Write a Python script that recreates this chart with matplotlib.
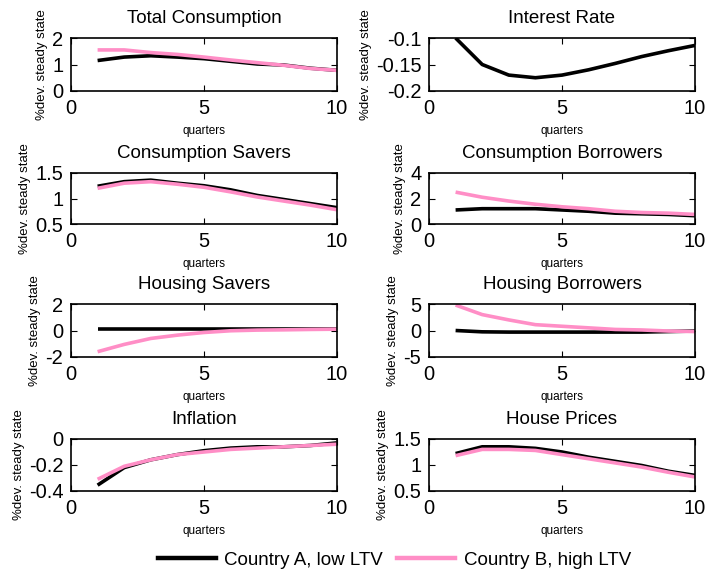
import matplotlib
matplotlib.use("Agg")
import matplotlib.pyplot as plt
from matplotlib.lines import Line2D

plt.rcParams["font.family"] = ["Liberation Sans", "DejaVu Sans"]
plt.rcParams["axes.unicode_minus"] = False

quarters = list(range(1, 11))

titles = ["Total Consumption", "Interest Rate",
          "Consumption Savers", "Consumption Borrowers",
          "Housing Savers", "Housing Borrowers",
          "Inflation", "House Prices"]

# Country A (low LTV) impulse responses
total_cons_a = [1.15, 1.28, 1.33, 1.28, 1.22, 1.12, 1.02, 0.98, 0.86, 0.78]
interest_a = [-0.10, -0.15, -0.17, -0.175, -0.17, -0.16, -0.148, -0.135, -0.124, -0.114]
cons_savers_a = [1.24, 1.33, 1.36, 1.30, 1.25, 1.17, 1.06, 0.98, 0.90, 0.82]
cons_borrowers_a = [1.1, 1.2, 1.2, 1.2, 1.1, 1.0, 0.85, 0.8, 0.75, 0.65]
housing_savers_a = [0.1, 0.1, 0.1, 0.1, 0.1, 0.1, 0.1, 0.1, 0.1, 0.1]
housing_borrowers_a = [0.0, -0.25, -0.3, -0.3, -0.3, -0.3, -0.3, -0.3, -0.2, -0.1]
inflation_a = [-0.355, -0.22, -0.16, -0.12, -0.09, -0.07, -0.06, -0.06, -0.05, -0.03]
house_prices_a = [1.22, 1.35, 1.35, 1.32, 1.25, 1.15, 1.07, 0.99, 0.88, 0.80]

# Country B (high LTV) impulse responses
total_cons_b = [1.55, 1.55, 1.45, 1.38, 1.28, 1.17, 1.07, 0.97, 0.85, 0.78]
interest_b = None
cons_savers_b = [1.20, 1.30, 1.33, 1.28, 1.22, 1.13, 1.03, 0.95, 0.87, 0.78]
cons_borrowers_b = [2.5, 2.1, 1.8, 1.55, 1.35, 1.2, 1.0, 0.9, 0.85, 0.75]
housing_savers_b = [-1.6, -1.05, -0.6, -0.35, -0.15, -0.02, 0.03, 0.05, 0.08, 0.1]
housing_borrowers_b = [4.8, 3.0, 2.0, 1.1, 0.8, 0.5, 0.2, 0.1, -0.1, -0.2]
inflation_b = [-0.31, -0.21, -0.16, -0.12, -0.10, -0.08, -0.07, -0.06, -0.05, -0.04]
house_prices_b = [1.18, 1.30, 1.30, 1.28, 1.20, 1.12, 1.04, 0.96, 0.86, 0.77]

series_a = [total_cons_a, interest_a, cons_savers_a, cons_borrowers_a,
            housing_savers_a, housing_borrowers_a, inflation_a, house_prices_a]
series_b = [total_cons_b, interest_b, cons_savers_b, cons_borrowers_b,
            housing_savers_b, housing_borrowers_b, inflation_b, house_prices_b]

y_ticks = [[0, 1, 2], [-0.2, -0.15, -0.1], [0.5, 1, 1.5], [0, 2, 4],
           [-2, 0, 2], [-5, 0, 5], [-0.4, -0.2, 0], [0.5, 1, 1.5]]
x_ticks = [0, 5, 10]
legend_labels = ["Country A, low LTV", "Country B, high LTV"]

color_a = "#000000"
color_b = "#ff8ec6"

W, H = 706, 576
fig = plt.figure(figsize=(W / 100, H / 100), dpi=100)

col_left = [71, 429]
col_width = 266
rows = [(38, 91), (173, 224), (304, 357), (439, 491)]

def fmt(v):
    return f"{v:g}"

for i in range(8):
    r, c = divmod(i, 2)
    top, bot = rows[r]
    ax = fig.add_axes([col_left[c] / W, 1 - bot / H, col_width / W, (bot - top) / H])
    ax.plot(quarters, series_a[i], color=color_a, lw=2.6, solid_capstyle="butt")
    if series_b[i] is not None:
        ax.plot(quarters, series_b[i], color=color_b, lw=2.6, solid_capstyle="butt")
    yt = y_ticks[i]
    ax.set_xlim(0, 10)
    ax.set_ylim(yt[0], yt[-1])
    ax.set_xticks(x_ticks)
    ax.set_xticklabels([fmt(v) for v in x_ticks])
    ax.set_yticks(yt)
    ax.set_yticklabels([fmt(v) for v in yt])
    ax.tick_params(direction="in", length=4, width=0.8, top=True, right=True,
                   labelsize=14.5)
    ax.tick_params(axis="x", pad=5.5)
    ax.tick_params(axis="y", pad=5.5)
    ax.set_title(titles[i], fontsize=13.5, pad=11)
    ax.set_xlabel("quarters", fontsize=8.5, labelpad=5)
    ax.set_ylabel("%dev. steady state", fontsize=9.5, labelpad=3)
    for sp in ax.spines.values():
        sp.set_linewidth(1.2)

handles = [Line2D([0], [0], color=color_a, lw=3.2),
           Line2D([0], [0], color=color_b, lw=3.2)]
fig.legend(handles, legend_labels, loc="center left",
           bbox_to_anchor=(141 / W, 1 - 560 / H),
           ncol=2, frameon=False, fontsize=13.5, handlelength=3.1,
           columnspacing=0.75, handletextpad=0.45)

fig.savefig("out.png", dpi=100)
